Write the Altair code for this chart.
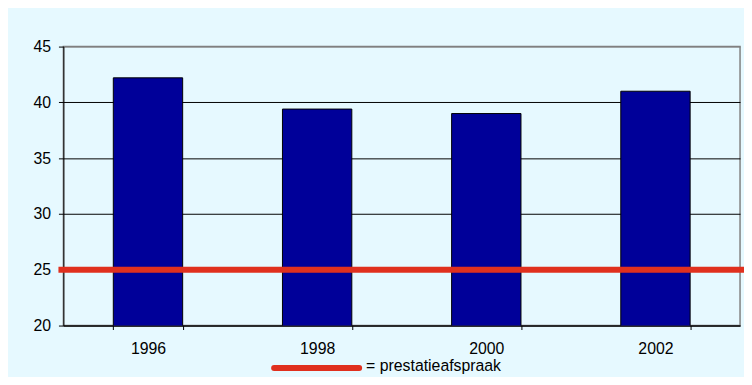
import altair as alt
import pandas as pd

years = ["1996", "1998", "2000", "2002"]
values = [42.2, 39.4, 39.0, 41.0]
target_value = [25]
legend_text = ["= prestatieafspraak"]

bars_df = pd.DataFrame({"jaar": years, "waarde": values})
target_df = pd.DataFrame({"waarde": target_value})
legend_df = pd.DataFrame({"tekst": legend_text})

W, H = 684, 282
RED = "#E0301E"

bars = alt.Chart(bars_df).mark_bar(
    color="#000099", stroke="#000000", strokeWidth=1, clip=True
).encode(
    x=alt.X("jaar:N", title=None, sort=years,
            scale=alt.Scale(paddingInner=0.59, paddingOuter=0.295),
            axis=alt.Axis(labelAngle=0, tickBand="extent", grid=False,
                          tickSize=4, labelPadding=11)),
    y=alt.Y("waarde:Q", title=None,
            scale=alt.Scale(domain=[20, 45], nice=False, zero=False),
            axis=alt.Axis(values=[20, 25, 30, 35, 40, 45], grid=True,
                          gridColor={"condition": {"test": "datum.value >= 45", "value": "#808080"},
                                     "value": "#000000"},
                          gridWidth=1, tickSize=5, labelPadding=8)),
)

rule = alt.Chart(target_df).mark_rule(
    strokeWidth=6, clip=False, strokeCap="butt", color=RED
).encode(
    y=alt.Y("waarde:Q"),
    x=alt.value(-5),
    x2=alt.value(W + 12),
)

legend_line = alt.Chart(legend_df).mark_rule(
    strokeWidth=6, strokeCap="round", color=RED, clip=False
).encode(
    x=alt.value(213), x2=alt.value(299), y=alt.value(H + 43),
)

legend_label = alt.Chart(legend_df).mark_text(
    align="left", baseline="middle", fontSize=16, font="Liberation Sans",
    color="#000000", clip=False
).encode(
    x=alt.value(306), y=alt.value(H + 41), text="tekst:N",
)

chart = alt.layer(bars, rule, legend_line, legend_label).properties(
    width=W, height=H,
    background="#E6F9FF",
    padding={"left": 56, "top": 37, "right": 4, "bottom": 50},
    autosize=alt.AutoSizeParams(type="none"),
).configure_view(
    stroke="#808080", strokeWidth=1.5
).configure_axis(
    domainColor="#000000", tickColor="#000000",
    labelFontSize=16, labelColor="#000000", labelFont="Liberation Sans",
)

chart.save("out.html", embed_options={"renderer": "svg", "actions": False})
